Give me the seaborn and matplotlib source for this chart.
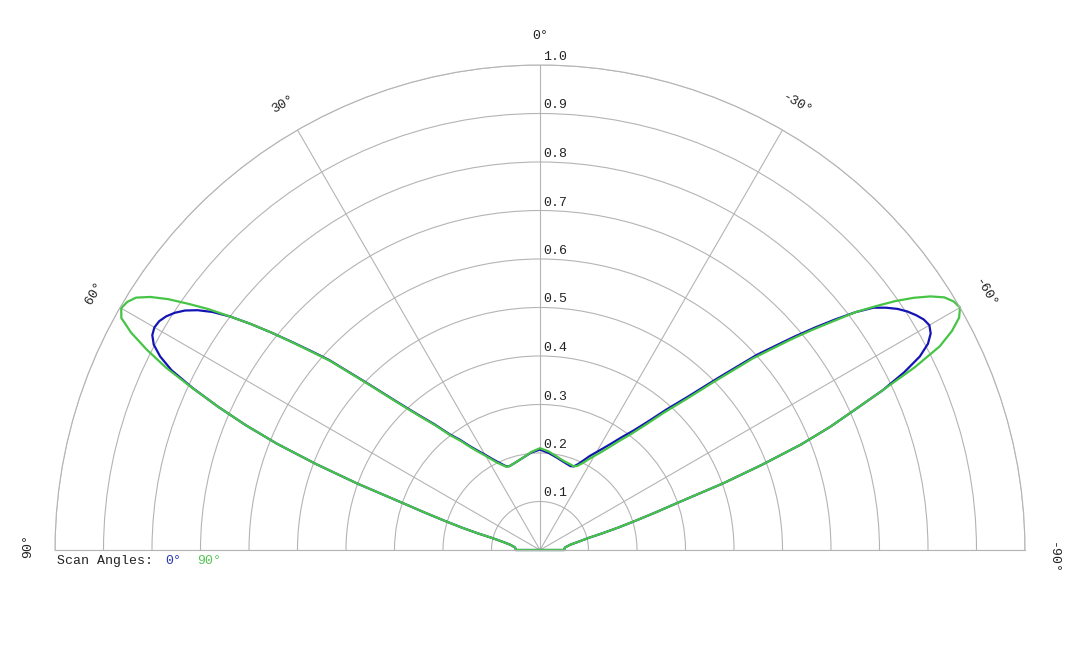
import numpy as np
import matplotlib
matplotlib.use("Agg")
import matplotlib.pyplot as plt
import matplotlib.transforms as mtransforms
import seaborn as sns

# ---------------- data ----------------
# angles in degrees (0 = up, positive to the left), radial values normalised
theta_neg = [-90, -90, -88, -84, -80, -78, -76, -75, -74, -73, -72, -71, -70, -69, -68,
             -67, -66, -65, -64, -63, -62, -61, -60, -59, -58, -57, -56, -55, -54, -53,
             -52, -51, -50, -49, -48, -46, -44, -42, -40, -38, -36, -34, -32, -30, -28,
             -26, -24, -22, -20, -15, -10, -5]
scan0_neg = [0.0, .050, .050, .052, .064, .080, .104, .133, .168, .205, .250, .305, .402, .490, .580,
             .650, .710, .780, .835, .879, .906, .921, .927, .923, .914, .903, .889, .871, .850, .815,
             .772, .728, .684, .640, .601, .511, .440, .390, .345, .312, .288, .266, .248, .233, .220,
             .206, .194, .186, .184, .188, .194, .201]
scan90_neg = [0.0, .050, .050, .052, .064, .080, .104, .133, .168, .205, .250, .305, .402, .490, .580,
              .650, .710, .780, .860, .925, .962, .988, 1.0, .995, .983, .960, .930, .895, .855, .815,
              .765, .720, .675, .630, .590, .500, .430, .380, .335, .302, .278, .256, .238, .224, .211,
              .199, .190, .186, .187, .190, .196, .204]

theta_pos = [0, 5, 10, 15, 20, 22, 24, 26, 28, 30, 32, 34, 36, 38, 40, 42, 44, 46, 48, 49,
             50, 51, 52, 53, 54, 55, 56, 57, 58, 59, 60, 61, 62, 63, 64, 65, 66, 67, 68, 69,
             70, 71, 72, 73, 74, 75, 76, 78, 80, 84, 88, 90, 90]
scan0_pos = [.207, .202, .194, .188, .184, .186, .194, .203, .214, .227, .241, .258, .281, .303, .338,
             .375, .425, .495, .586, .625, .667, .712, .757, .800, .835, .862, .883, .898, .909, .916,
             .918, .914, .902, .879, .845, .790, .727, .660, .585, .495, .402, .307, .250, .205, .168,
             .133, .100, .075, .062, .052, .050, .050, 0.0]
scan90_pos = [.210, .203, .194, .188, .184, .185, .192, .200, .211, .224, .238, .255, .278, .300, .335,
              .372, .422, .492, .583, .622, .665, .712, .757, .800, .845, .885, .925, .958, .982, .993,
              .997, .987, .955, .910, .858, .792, .727, .660, .585, .495, .402, .307, .250, .205, .168,
              .133, .100, .075, .062, .052, .050, .050, 0.0]

angle_ticks = [90, 60, 30, 0, -30, -60, -90]
angle_labels = ["90°", "60°", "30°", "0°", "-30°", "-60°", "-90°"]
radial_ticks = [0.1, 0.2, 0.3, 0.4, 0.5, 0.6, 0.7, 0.8, 0.9, 1.0]
radial_labels = ["0.1", "0.2", "0.3", "0.4", "0.5", "0.6", "0.7", "0.8", "0.9", "1.0"]
series_names = ["0°", "90°"]
series_colors = ["#1414b4", "#46c446"]

# ---------------- style ----------------
sns.set_style("white")
plt.rcParams["font.family"] = ["Liberation Mono", "DejaVu Sans Mono"]
FS = 9.5
GRID = "#b4b4b4"

W, H = 1080, 648
cx, cy, R = 540, 550, 485   # pixel centre (from top) and radius of the half disc
fig = plt.figure(figsize=(W / 100, H / 100), dpi=100)
fig.patch.set_facecolor("white")
# polar wedge is fitted (centred) inside a square box
box = 2 * R
top = (cy - R / 2) - R
ax = fig.add_axes([(cx - R) / W, (H - (top + box)) / H, box / W, box / H], projection="polar")
ax.set_theta_zero_location("N")
ax.set_theta_direction(1)
ax.set_thetamin(-90)
ax.set_thetamax(90)
ax.set_ylim(0, 1.0)
ax.set_facecolor("white")

ax.set_thetagrids(angle_ticks, labels=[""] * len(angle_ticks))
ax.set_rgrids(radial_ticks, labels=[""] * len(radial_ticks))
ax.grid(True, color=GRID, linewidth=0.8)
for name, sp in ax.spines.items():
    sp.set_color(GRID)
    sp.set_linewidth(0.8)

theta0 = np.deg2rad(np.array(theta_neg + theta_pos, dtype=float))
r0 = np.array(scan0_neg + scan0_pos)
r90 = np.array(scan90_neg + scan90_pos)

sns.lineplot(x=theta0, y=r0, sort=False, estimator=None, ax=ax,
             color=series_colors[0], linewidth=1.6, clip_on=False)
sns.lineplot(x=theta0, y=r90, sort=False, estimator=None, ax=ax,
             color=series_colors[1], linewidth=1.6, clip_on=False)
ax.set_xlabel("")
ax.set_ylabel("")

# angle labels (small pixel nudges for the two horizontal ends)
nudges = {90: (2, 4), -90: (-1, -8)}
for a, lab in zip(angle_ticks, angle_labels):
    dx, dy = nudges.get(a, (0, 0))
    tr = mtransforms.offset_copy(ax.transData, fig=fig, x=dx, y=dy, units="dots")
    ax.text(np.deg2rad(a), 1.06, lab, transform=tr, rotation=a, rotation_mode="anchor",
            ha="center", va="center", fontsize=FS, color="#222222", clip_on=False)

# radial labels
off = mtransforms.offset_copy(ax.transData, fig=fig, x=3, y=2, units="dots")
for rv, lab in zip(radial_ticks, radial_labels):
    ax.text(0, rv, lab, transform=off, ha="left", va="bottom", fontsize=FS,
            color="#222222", clip_on=False)

# legend line
ly = (H - 561) / H
fig.text(57 / W, ly, "Scan Angles:", ha="left", va="center", fontsize=FS, color="#222222")
fig.text(165 / W, ly, series_names[0], ha="left", va="center", fontsize=FS, color="#2a3ab8")
fig.text(197 / W, ly, series_names[1], ha="left", va="center", fontsize=FS, color="#55c455")

fig.savefig("out.png", dpi=100, facecolor="white")
